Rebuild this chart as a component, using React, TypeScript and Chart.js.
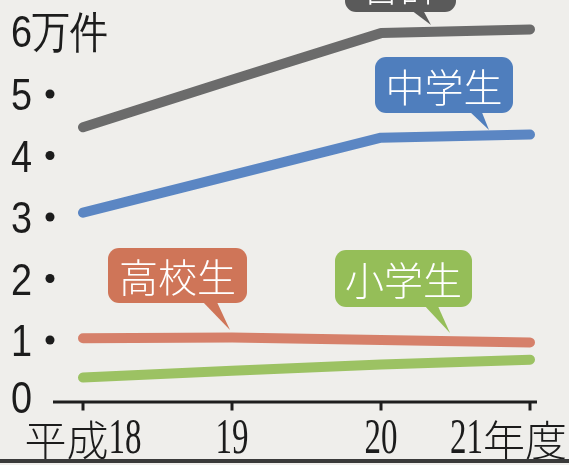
import React, { useEffect, useRef } from "react";
import { Chart, registerables } from "chart.js";
Chart.register(...registerables);

// ---- data ----
const years = ["平成18", "19", "20", "21年度"];
const yTickValues = [0, 1, 2, 3, 4, 5, 6];
const yTickLabels = ["0", "1", "2", "3", "4", "5", "6万件"];
const seriesNames = ["合計", "中学生", "高校生", "小学生"];
const totalVals = [4.46, 5.23, 5.99, 6.05];
const juniorVals = [3.07, 3.68, 4.29, 4.34];
const highVals = [1.03, 1.04, 1.0, 0.96];
const elemVals = [0.39, 0.5, 0.6, 0.68];

// ---- styles ----
const lineColors = ["#6b6b6b", "#5b86c3", "#d6806a", "#9cc263"];
const boxColors = ["#5a5a5a", "#4f7ebd", "#cf7558", "#95be58"];
const callouts = [
  { idx: 0, box: [345, -44, 111, 56], tail: [[411, 10], [423, 10], [431, 25]] },
  { idx: 1, box: [375, 57, 138, 56], tail: [[468, 110], [481, 110], [489, 130]] },
  { idx: 2, box: [108, 248, 139, 55], tail: [[201, 300], [216, 300], [230, 330]] },
  { idx: 3, box: [335, 250, 137, 57], tail: [[423, 304], [437, 304], [450, 333]] },
];

const W = 569;
const H = 465;

function drawMixed(ctx: CanvasRenderingContext2D, text: string, cx: number, baseY: number, rightLimit: number) {
  const digitFont = '50px "Liberation Serif", "DejaVu Serif", serif';
  const cjkFont = '300 42px "Noto Sans CJK JP", sans-serif';
  const sx = 0.66;
  const segs: { s: string; digit: boolean; w: number }[] = [];
  for (const ch of text) {
    const digit = /[0-9]/.test(ch);
    ctx.font = digit ? digitFont : cjkFont;
    const w = ctx.measureText(ch).width * (digit ? sx : 1);
    segs.push({ s: ch, digit, w });
  }
  const total = segs.reduce((a, b) => a + b.w, 0);
  let x = cx - total / 2;
  if (x + total > rightLimit) x = rightLimit - total;
  ctx.textAlign = "left";
  ctx.textBaseline = "alphabetic";
  for (const sg of segs) {
    ctx.save();
    ctx.font = sg.digit ? digitFont : cjkFont;
    if (sg.digit) {
      ctx.translate(x, baseY);
      ctx.scale(sx, 1);
      ctx.fillText(sg.s, 0, 0);
    } else {
      ctx.fillText(sg.s, x, baseY + 3);
    }
    ctx.restore();
    x += sg.w;
  }
}

const decor = {
  id: "decor",
  beforeDraw(chart: any) {
    const ctx = chart.ctx as CanvasRenderingContext2D;
    ctx.save();
    ctx.fillStyle = "#efeeeb";
    ctx.fillRect(0, 0, W, H);
    ctx.restore();
  },
  beforeDatasetsDraw(chart: any) {
    const ctx = chart.ctx as CanvasRenderingContext2D;
    const xs = chart.scales.x;
    const ys = chart.scales.y;
    const y0 = ys.getPixelForValue(0);
    ctx.save();
    ctx.strokeStyle = "#1e1e1e";
    ctx.lineWidth = 3;
    ctx.beginPath();
    ctx.moveTo(53, y0 + 0.5);
    ctx.lineTo(537, y0 + 0.5);
    ctx.stroke();
    years.forEach((_, i) => {
      const x = xs.getPixelForValue(i);
      ctx.beginPath();
      ctx.moveTo(x, y0);
      ctx.lineTo(x, y0 + 9);
      ctx.stroke();
    });
    // y labels
    ctx.fillStyle = "#1c1c1c";
    yTickValues.forEach((v, i) => {
      let y = ys.getPixelForValue(v);
      if (v === 0) y -= 5;
      if (v === 6) y -= 2;
      ctx.save();
      ctx.font = '44px "Liberation Sans", Arial, sans-serif';
      ctx.textAlign = "left";
      ctx.textBaseline = "alphabetic";
      ctx.translate(11, y + 16);
      ctx.scale(0.86, 1);
      ctx.fillText(yTickLabels[i], 0, 0);
      ctx.restore();
      if (v >= 1 && v <= 5) {
        ctx.beginPath();
        ctx.arc(50, ys.getPixelForValue(v), 4.5, 0, Math.PI * 2);
        ctx.fill();
      }
    });
    // x labels
    years.forEach((lab, i) => {
      drawMixed(ctx, lab, xs.getPixelForValue(i), 453, 567);
    });
    // bottom rule
    ctx.fillStyle = "#3a3a3a";
    ctx.fillRect(0, 459, W, 4);
    ctx.restore();
  },
  afterDatasetsDraw(chart: any) {
    const ctx = chart.ctx as CanvasRenderingContext2D;
    ctx.save();
    callouts.forEach((c) => {
      const [bx, by, bw, bh] = c.box;
      ctx.fillStyle = boxColors[c.idx];
      ctx.beginPath();
      (ctx as any).roundRect(bx, by, bw, bh, 11);
      ctx.fill();
      ctx.beginPath();
      ctx.moveTo(c.tail[0][0], c.tail[0][1]);
      ctx.lineTo(c.tail[1][0], c.tail[1][1]);
      ctx.lineTo(c.tail[2][0], c.tail[2][1]);
      ctx.closePath();
      ctx.fill();
      ctx.fillStyle = "#ffffff";
      ctx.font = '300 39px "Noto Sans CJK JP", sans-serif';
      ctx.textAlign = "center";
      ctx.textBaseline = "middle";
      ctx.fillText(seriesNames[c.idx], bx + bw / 2, by + bh / 2 + 2);
    });
    ctx.restore();
  },
};

export default function App() {
  const ref = useRef<HTMLCanvasElement | null>(null);
  useEffect(() => {
    if (!ref.current) return;
    const allVals = [totalVals, juniorVals, highVals, elemVals];
    const chart = new Chart(ref.current, {
      type: "line",
      data: {
        labels: years,
        datasets: allVals.map((vals, i) => ({
          label: seriesNames[i],
          data: vals,
          borderColor: lineColors[i],
          backgroundColor: lineColors[i],
          borderWidth: 10,
          borderCapStyle: "round" as const,
          borderJoinStyle: "round" as const,
          pointRadius: 0,
          tension: 0,
          fill: false,
        })),
      },
      options: {
        animation: false,
        responsive: false,
        devicePixelRatio: 1,
        layout: { padding: { left: 83, right: 39, top: 1.75, bottom: 63.5 } },
        plugins: { legend: { display: false }, tooltip: { enabled: false } },
        scales: {
          x: { type: "category", display: false, offset: false },
          y: { type: "linear", display: false, min: 0, max: 6.5 },
        },
      },
      plugins: [decor],
    });
    return () => chart.destroy();
  }, []);
  return (
    <div style={{ position: "absolute", left: 0, top: 0, width: W, height: H }}>
      <canvas ref={ref} width={W} height={H} style={{ display: "block" }} />
    </div>
  );
}
